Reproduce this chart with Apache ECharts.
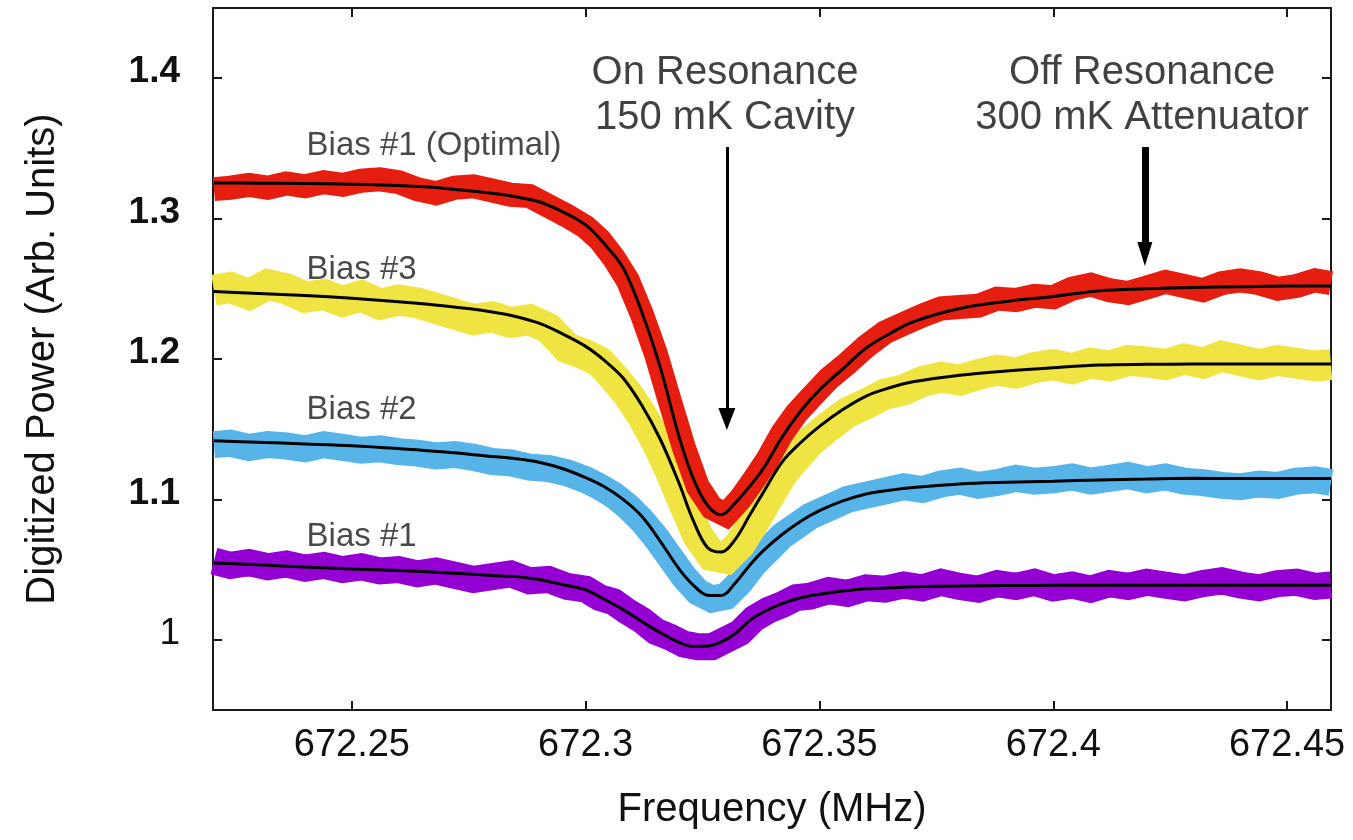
<!DOCTYPE html>
<html><head><meta charset="utf-8">
<script src="https://cdn.jsdelivr.net/npm/echarts@6/dist/echarts.min.js"></script>
<style>html,body{margin:0;padding:0;background:#fff}#c{width:1353px;height:840px}</style>
</head><body><div id="c"></div>
<script>
// ---- data ----
const freqData = [672.2205, 672.224, 672.228, 672.232, 672.236, 672.24, 672.244, 672.248, 672.252, 672.256, 672.26, 672.264, 672.268, 672.272, 672.276, 672.28, 672.284, 672.288, 672.292, 672.296, 672.30, 672.303, 672.306, 672.309, 672.312, 672.315, 672.318, 672.321, 672.324, 672.327, 672.33, 672.333, 672.336, 672.339, 672.342, 672.345, 672.348, 672.352, 672.356, 672.36, 672.364, 672.368, 672.372, 672.376, 672.38, 672.384, 672.388, 672.392, 672.396, 672.40, 672.404, 672.408, 672.412, 672.416, 672.42, 672.424, 672.428, 672.432, 672.436, 672.44, 672.444, 672.448, 672.452, 672.456, 672.4594];

const optimalData = [1.321, 1.322, 1.324, 1.322, 1.325, 1.323, 1.326, 1.324, 1.327, 1.328, 1.326, 1.321, 1.318, 1.322, 1.323, 1.320, 1.317, 1.316, 1.309, 1.302,
  1.294, 1.285, 1.272, 1.256, 1.232, 1.204, 1.170, 1.137, 1.109, 1.094, 1.089, 1.100, 1.114, 1.129, 1.147, 1.161, 1.172,
  1.186, 1.197, 1.209, 1.219, 1.225, 1.231, 1.236, 1.237, 1.238, 1.243, 1.242, 1.245, 1.244, 1.250, 1.253, 1.249, 1.247, 1.251, 1.255, 1.252, 1.249, 1.254, 1.256, 1.254, 1.250, 1.252, 1.256, 1.254];

const bias3Data = [1.249, 1.251, 1.246, 1.253, 1.250, 1.244, 1.246, 1.241, 1.245, 1.239, 1.242, 1.240, 1.236, 1.232, 1.228, 1.230, 1.226, 1.228, 1.222, 1.208,
  1.203, 1.198, 1.187, 1.175, 1.160, 1.142, 1.121, 1.097, 1.074, 1.060, 1.058, 1.068, 1.084, 1.101, 1.118, 1.130, 1.141,
  1.152, 1.162, 1.168, 1.175, 1.178, 1.184, 1.187, 1.185, 1.189, 1.192, 1.190, 1.194, 1.196, 1.193, 1.197, 1.195, 1.199, 1.198, 1.196, 1.200, 1.197, 1.202, 1.199, 1.196, 1.199, 1.197, 1.195, 1.196];

const bias2Data = [1.139, 1.140, 1.137, 1.139, 1.138, 1.136, 1.139, 1.137, 1.135, 1.136, 1.134, 1.133, 1.131, 1.132, 1.130, 1.127, 1.126, 1.123, 1.122, 1.119,
  1.114, 1.109, 1.103, 1.095, 1.085, 1.073, 1.059, 1.045, 1.034, 1.029, 1.031, 1.041, 1.054, 1.064, 1.074, 1.081, 1.088,
  1.094, 1.100, 1.103, 1.106, 1.109, 1.107, 1.111, 1.113, 1.110, 1.112, 1.115, 1.113, 1.114, 1.116, 1.113, 1.115, 1.117, 1.114, 1.116, 1.113, 1.112, 1.110, 1.109, 1.111, 1.110, 1.113, 1.114, 1.112];

const bias1Data = [1.056, 1.053, 1.055, 1.052, 1.054, 1.051, 1.053, 1.050, 1.052, 1.049, 1.050, 1.047, 1.049, 1.046, 1.043, 1.045, 1.047, 1.042, 1.043, 1.038,
  1.036, 1.030, 1.027, 1.020, 1.014, 1.006, 1.002, 0.997, 0.995, 0.995, 1.000, 1.005, 1.015, 1.021, 1.025, 1.030, 1.031,
  1.035, 1.033, 1.037, 1.036, 1.039, 1.037, 1.041, 1.038, 1.036, 1.040, 1.038, 1.041, 1.037, 1.039, 1.036, 1.040, 1.038, 1.041, 1.039, 1.037, 1.040, 1.042, 1.039, 1.037, 1.040, 1.041, 1.038, 1.039];

const freqFit = [672.2205, 672.23, 672.24, 672.25, 672.26, 672.27, 672.28, 672.285, 672.29, 672.295, 672.30, 672.304, 672.308, 672.312, 672.316, 672.32, 672.323, 672.326, 672.329, 672.332, 672.335, 672.338, 672.342, 672.346, 672.35, 672.355, 672.36, 672.365, 672.37, 672.38, 672.39, 672.40, 672.41, 672.42, 672.43, 672.44, 672.45, 672.4594];

const optimalFit = [1.3254, 1.3252, 1.325, 1.3245, 1.3235, 1.3215, 1.318, 1.3155, 1.312, 1.305, 1.2955, 1.282, 1.265, 1.2335, 1.1935, 1.1444, 1.115, 1.096, 1.089, 1.0975, 1.109, 1.122, 1.1444, 1.163, 1.178, 1.193, 1.2078, 1.218, 1.2265, 1.236, 1.241, 1.2445, 1.2486, 1.25, 1.251, 1.2515, 1.252, 1.252];
const bias3Fit = [1.248, 1.2467, 1.2452, 1.2432, 1.2407, 1.2377, 1.2335, 1.2303, 1.2255, 1.218, 1.209, 1.199, 1.1865, 1.167, 1.1425, 1.1113, 1.085, 1.066, 1.0625, 1.0715, 1.0883, 1.105, 1.1266, 1.1405, 1.152, 1.164, 1.1736, 1.1795, 1.1838, 1.1885, 1.1915, 1.1938, 1.1957, 1.1962, 1.1964, 1.1965, 1.1965, 1.1965];
const bias2Fit = [1.1418, 1.1407, 1.1395, 1.1382, 1.1362, 1.1338, 1.1305, 1.129, 1.1265, 1.122, 1.1155, 1.109, 1.1, 1.088, 1.07, 1.0504, 1.039, 1.0318, 1.0315, 1.0405, 1.0528, 1.0635, 1.075, 1.0845, 1.092, 1.099, 1.1039, 1.1065, 1.1085, 1.111, 1.1122, 1.113, 1.1139, 1.1145, 1.115, 1.1149, 1.1148, 1.1148];
const bias1Fit = [1.0547, 1.0534, 1.0519, 1.0505, 1.0493, 1.0478, 1.0458, 1.045, 1.0429, 1.0394, 1.0356, 1.0288, 1.0215, 1.013, 1.005, 0.9982, 0.9953, 0.9955, 0.9985, 1.0045, 1.0135, 1.0198, 1.0258, 1.03, 1.0325, 1.0348, 1.0363, 1.037, 1.0377, 1.0383, 1.0386, 1.0388, 1.0388, 1.0388, 1.0388, 1.0388, 1.0388, 1.0388];

const xTicks = [672.25, 672.3, 672.35, 672.4, 672.45];
const xTickLabels = ['672.25', '672.3', '672.35', '672.4', '672.45'];
const yTicks = [1.0, 1.1, 1.2, 1.3, 1.4];
const yTickLabels = ['1', '1.1', '1.2', '1.3', '1.4'];

const curveLabels = [
  {text: 'Bias #1 (Optimal)', x: 672.2402, y: 1.3517},
  {text: 'Bias #3', x: 672.2402, y: 1.2634},
  {text: 'Bias #2', x: 672.2402, y: 1.1637},
  {text: 'Bias #1', x: 672.2402, y: 1.0732}
];
const notes = [
  {text: 'On Resonance\n150 mK Cavity', x: 672.3298, y: 1.388},
  {text: 'Off Resonance\n300 mK Attenuator', x: 672.419, y: 1.388}
];
const arrows = [
  {x: 672.3302, from: 1.351, to: 1.1573, width: 3, head: [17, 22]},
  {x: 672.4196, from: 1.351, to: 1.2748, width: 7, head: [15, 24]}
];

// ---- chart ----
const FONT = 'Liberation Sans, Arial, sans-serif';
const zip = (xs, ys) => xs.map((x, i) => [x, ys[i]]);
const pick = (ticks, labels, v) => {
  let best = 0;
  ticks.forEach((t, i) => { if (Math.abs(t - v) < Math.abs(ticks[best] - v)) best = i; });
  return labels[best];
};

function band(name, data, color, width) {
  return {name, type: 'line', data: zip(freqData, data), showSymbol: false, symbol: 'none',
    lineStyle: {color, width, join: 'miter'}, z: 2, silent: true, animation: false};
}
function fit(name, data) {
  return {name, type: 'line', data: zip(freqFit, data), showSymbol: false, symbol: 'none', smooth: 0.35,
    lineStyle: {color: '#000', width: 3}, z: 5, silent: true, animation: false};
}

const xMin = 672.2203, xMax = 672.4594, yMin = 0.95, yMax = 1.45;
const axisLine = {show: true, lineStyle: {color: '#1a1a1a', width: 2}};
const tickStyle = {show: true, inside: true, length: 9, lineStyle: {color: '#1a1a1a', width: 2}};

const option = {
  backgroundColor: '#fff',
  animation: false,
  grid: {left: 213, right: 22, top: 8, bottom: 130, containLabel: false},
  xAxis: [
    {type: 'value', min: xMin, max: xMax, position: 'bottom',
      axisLine, axisTick: Object.assign({customValues: xTicks}, tickStyle),
      axisLabel: {customValues: xTicks, margin: 17, fontFamily: FONT, fontSize: 38, color: '#111',
        formatter: v => pick(xTicks, xTickLabels, v)},
      splitLine: {show: false},
      name: 'Frequency (MHz)', nameLocation: 'middle', nameGap: 80,
      nameTextStyle: {fontFamily: FONT, fontSize: 40, color: '#111'}},
    {type: 'value', min: xMin, max: xMax, position: 'top',
      axisLine, axisTick: Object.assign({customValues: xTicks}, tickStyle),
      axisLabel: {show: false}, splitLine: {show: false}}
  ],
  yAxis: [
    {type: 'value', min: yMin, max: yMax, position: 'left',
      axisLine, axisTick: Object.assign({customValues: yTicks}, tickStyle),
      axisLabel: {customValues: yTicks, margin: 33, color: '#111', padding: [0, 0, 12, 0],
        formatter: v => { const s = pick(yTicks, yTickLabels, v); return s === '1' ? '{n|' + s + '}' : '{b|' + s + '}'; },
        rich: {b: {fontFamily: FONT, fontSize: 37, fontWeight: 'bold', color: '#111'},
               n: {fontFamily: FONT, fontSize: 37, color: '#111'}}},
      splitLine: {show: false},
      name: 'Digitized Power (Arb. Units)', nameLocation: 'middle', nameGap: 150, nameRotate: 90,
      nameTextStyle: {fontFamily: FONT, fontSize: 40, color: '#111'}},
    {type: 'value', min: yMin, max: yMax, position: 'right',
      axisLine, axisTick: Object.assign({customValues: yTicks}, tickStyle),
      axisLabel: {show: false}, splitLine: {show: false}}
  ],
  series: [
    band('Bias #1 data', bias1Data, '#9400d3', 27),
    band('Bias #2 data', bias2Data, '#56b4e9', 27),
    band('Bias #3 data', bias3Data, '#f0e442', 31),
    band('Bias #1 (Optimal) data', optimalData, '#e51e10', 24),
    fit('Bias #1 fit', bias1Fit),
    fit('Bias #2 fit', bias2Fit),
    fit('Bias #3 fit', bias3Fit),
    fit('Bias #1 (Optimal) fit', optimalFit),
    {name: 'curve labels', type: 'scatter', z: 8, silent: true, animation: false,
      symbolSize: 1, itemStyle: {color: 'rgba(0,0,0,0)'},
      data: curveLabels.map(d => ({value: [d.x, d.y], name: d.text})),
      label: {show: true, position: 'right', distance: 0, formatter: p => p.name,
        fontFamily: FONT, fontSize: 33, color: '#1a1a1a'}},
    {name: 'notes', type: 'scatter', z: 8, silent: true, animation: false,
      symbolSize: 1, itemStyle: {color: 'rgba(0,0,0,0)'},
      data: notes.map(d => ({value: [d.x, d.y], name: d.text})),
      label: {show: true, position: 'inside', formatter: p => p.name, align: 'center',
        fontFamily: FONT, fontSize: 40, lineHeight: 45, color: '#111'},
      markLine: {silent: true, animation: false, label: {show: false},
        data: arrows.map(a => [
          {coord: [a.x, a.from], symbol: 'none', lineStyle: {color: '#000', width: a.width, type: 'solid'}},
          {coord: [a.x, a.to], symbol: 'triangle', symbolSize: a.head}
        ])}}
  ]
};

const chart = echarts.init(document.getElementById('c'), null, {renderer: 'canvas'});
chart.setOption(option);
</script>
</body></html>
